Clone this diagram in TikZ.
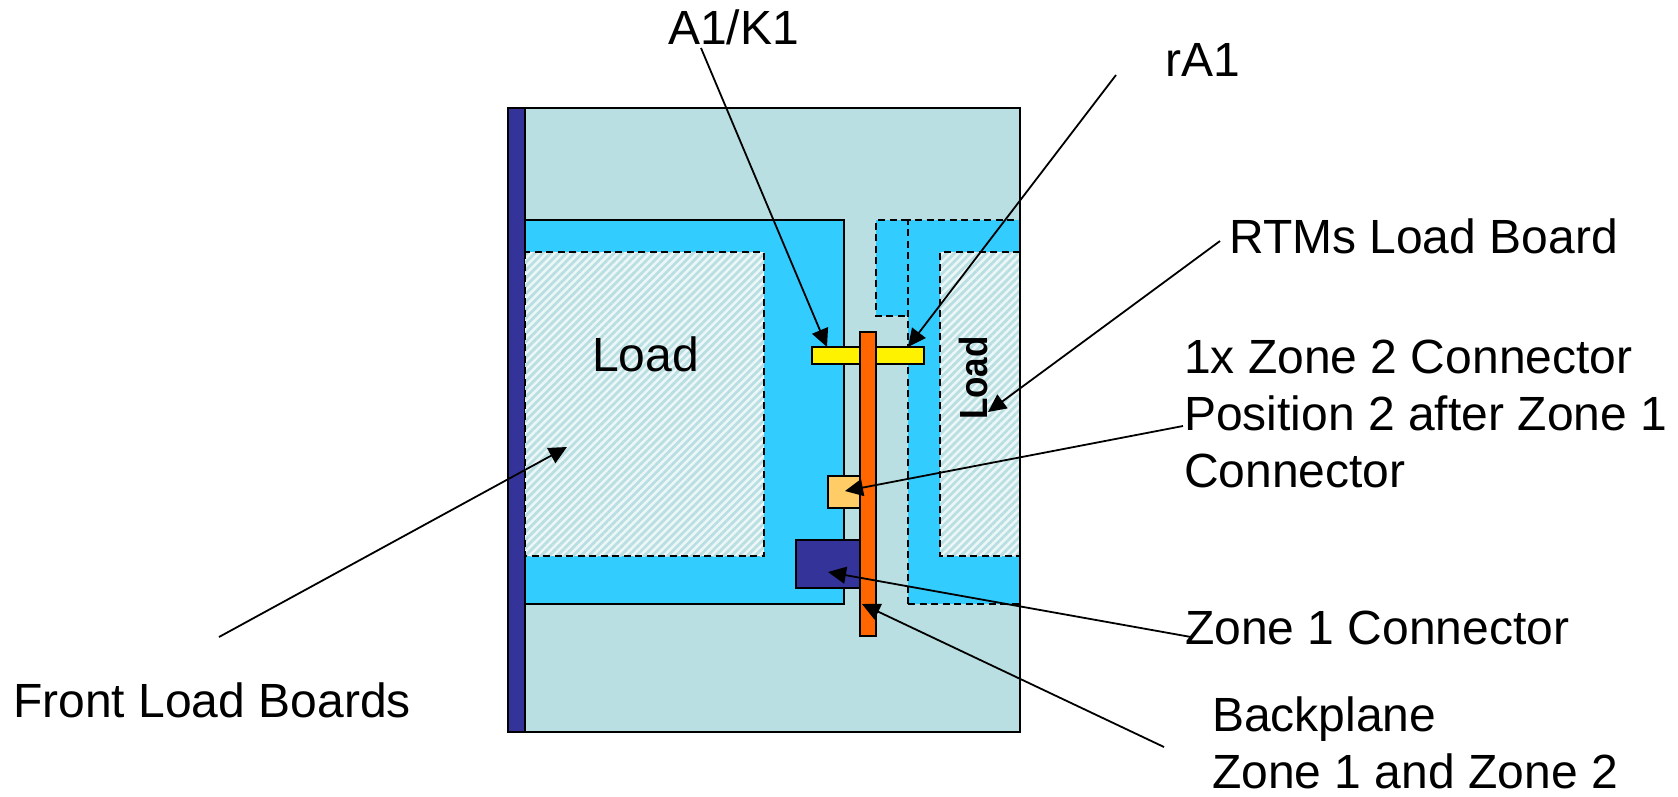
\documentclass[tikz,border=0pt]{standalone}
\usepackage{fontspec}
\setmainfont{Liberation Sans}
\usetikzlibrary{arrows.meta,patterns.meta}
\definecolor{boxbg}{HTML}{B9DFE2}
\definecolor{boardblue}{HTML}{33CCFF}
\definecolor{darkblue}{HTML}{333399}
\definecolor{backplane}{HTML}{FF6600}
\definecolor{conn}{HTML}{FFCC66}
\definecolor{hatchbg}{HTML}{EDF7F8}
\definecolor{hatchfg}{HTML}{B9DFE2}
\tikzset{
  x=1pt,y=-1pt,
  part/.style={draw=black,line width=1.8pt},
  dashedpart/.style={draw=black,line width=1.8pt,dash pattern=on 7pt off 4.5pt},
  hatchfill/.style={fill=hatchbg},
  hatchlines/.style={pattern={Lines[angle=45,distance=5.6pt,line width=2.8pt]},pattern color=hatchfg},
  lbl/.style={anchor=base west,inner sep=0pt,font=\fontsize{48}{57}\selectfont,align=left},
  pointer/.style={draw=black,line width=1.8pt,-{Triangle[length=18pt,width=17pt]}}
}
\begin{document}
\begin{tikzpicture}
\useasboundingbox (0,0) rectangle (1678,796);
% chassis
\draw[part,fill=boxbg] (508,108) rectangle (1020,732);
\draw[part,fill=darkblue] (508,108) rectangle (525,732);
% front board
\draw[part,fill=boardblue] (525,220) rectangle (844,604);
\fill[hatchfill] (525,252) rectangle (764,556);
\fill[hatchlines] (525,252) rectangle (764,556);
\draw[dashedpart] (525,252) rectangle (764,556);
% RTM board
\fill[boardblue] (908,220) rectangle (1020,604);
\fill[boardblue] (876,220) rectangle (908,316);
\draw[dashedpart] (908,604) -- (908,220) -- (1020,220);
\draw[dashedpart] (908,604) -- (1020,604);
\draw[dashedpart] (908,220) -- (876,220) -- (876,316) -- (908,316);
\fill[hatchfill] (940,252) rectangle (1020,556);
\fill[hatchlines] (940,252) rectangle (1020,556);
\draw[dashedpart] (1020,252) -- (940,252) -- (940,556) -- (1020,556);
\draw[line width=1.8pt] (1020,108) -- (1020,732);
% connectors and backplane
\draw[part,fill=yellow] (812,347) rectangle (924,364);
\draw[part,fill=conn] (828,476) rectangle (860,508);
\draw[part,fill=darkblue] (796,540) rectangle (860,588);
\draw[part,fill=backplane] (860,332) rectangle (876,636);
% labels
\node[lbl] (a1k1) at (668,44) {A1/K1};
\node[lbl] (ra1) at (1165,76) {rA1};
\node[lbl] (rtm) at (1229,253) {RTMs Load Board};
\node[lbl] (zone2) at (1184,487) {1x Zone 2 Connector\\Position 2 after Zone 1\\Connector};
\node[lbl] (zone1) at (1185,644) {Zone 1 Connector};
\node[lbl] (bp) at (1212,788) {Backplane\\Zone 1 and Zone 2};
\node[lbl] (front) at (13,717) {Front Load Boards};
\node[lbl] (loadf) at (592,371) {Load};
\node[inner sep=0pt,rotate=90,font=\bfseries\fontsize{35}{42}\selectfont] (loadr) at (973,378) {\scalebox{1}[1.12]{Load}};
% pointer ends
\coordinate (a1s) at (701,48);   \coordinate (a1e) at (827,347);
\coordinate (ras) at (1116,75);  \coordinate (rae) at (908,347);
\coordinate (rts) at (1220,241); \coordinate (rte) at (988,412);
\coordinate (z2s) at (1183,426); \coordinate (z2e) at (845,491);
\coordinate (z1s) at (1191,637); \coordinate (z1e) at (828,572);
\coordinate (bps) at (1164,747); \coordinate (bpe) at (862,604);
\coordinate (frs) at (219,637);  \coordinate (fre) at (567,447);
\draw[pointer] (a1s) -- (a1e);
\draw[pointer] (ras) -- (rae);
\draw[pointer] (rts) -- (rte);
\draw[pointer] (z2s) -- (z2e);
\draw[pointer] (z1s) -- (z1e);
\draw[pointer] (bps) -- (bpe);
\draw[pointer] (frs) -- (fre);
\end{tikzpicture}
\end{document}
